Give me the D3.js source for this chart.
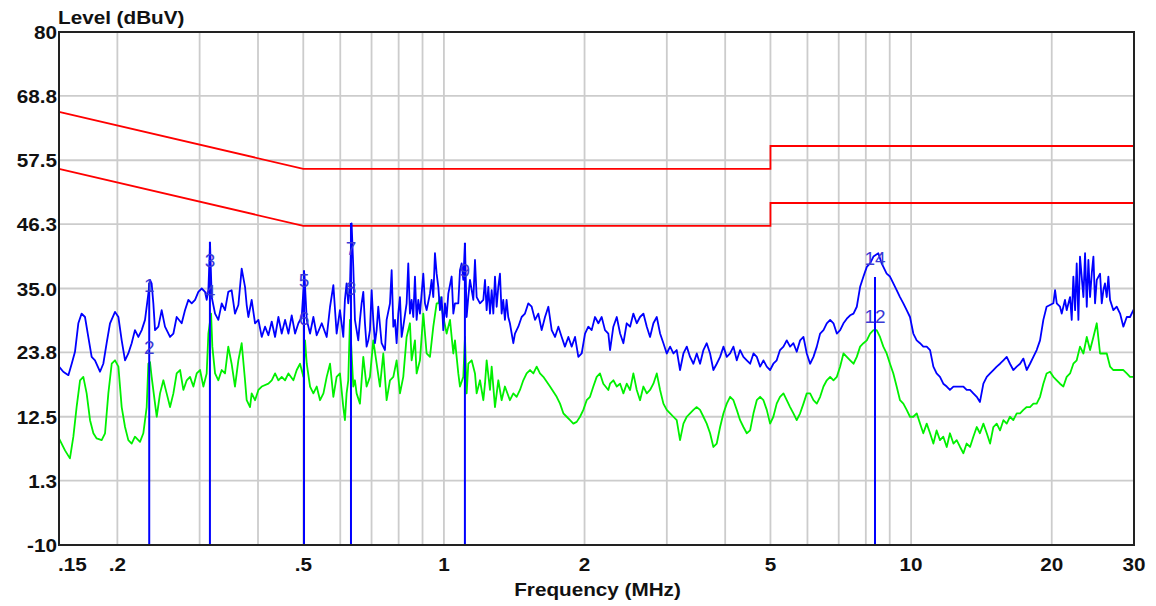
<!DOCTYPE html>
<html>
<head>
<meta charset="utf-8">
<script src="https://cdn.jsdelivr.net/npm/d3@7"></script>
<style>
  body { margin: 0; background: #ffffff; }
  text { font-family: "Liberation Sans", Arial, sans-serif; }
</style>
</head>
<body>
<div id="chart"></div>
<script>
///////////////////////////////////////////////////
//          CHART DATA       //
///////////////////////////////////////////////////
var yTicks = [-10, 1.3, 12.5, 23.8, 35.0, 46.3, 57.5, 68.8, 80];
var xGrid = [0.2, 0.3, 0.4, 0.5, 0.6, 0.7, 0.8, 0.9, 1, 2, 3, 4, 5, 6, 7, 8, 9, 10, 20, 30];
var xTickLabels = [[0.15, ".15"], [0.2, ".2"], [0.5, ".5"], [1, "1"], [2, "2"], [5, "5"], [10, "10"], [20, "20"], [30, "30"]];

// limit lines (dBuV), quasi-peak and average
var qpLimit = [[0.15, 66], [0.5, 56], [5, 56], [5, 60], [30, 60]];
var avLimit = [[0.15, 56], [0.5, 46], [5, 46], [5, 50], [30, 50]];

// peak detector trace [MHz, dBuV]
var peakTrace = [
  [0.150, 21.3], [0.1532, 20.4], [0.1571, 19.8], [0.1597, 21.8], [0.1623, 23.9], [0.1650, 28.9], [0.1677, 30.6],
  [0.1705, 30.0], [0.1733, 26.5], [0.1762, 23.0], [0.1791, 22.4], [0.1836, 20.4], [0.1866, 21.8], [0.1897, 25.4],
  [0.1929, 28.9], [0.1977, 30.9], [0.2010, 30.0], [0.2043, 25.9], [0.2077, 22.4], [0.2111, 23.6], [0.2146, 25.4],
  [0.2181, 27.7], [0.2218, 26.5], [0.2255, 27.7], [0.2292, 29.5], [0.2330, 34.1], [0.2349, 36.5], [0.2368, 35.9],
  [0.2388, 32.4], [0.2408, 27.7], [0.2448, 28.3], [0.2488, 31.2], [0.2529, 28.3], [0.2593, 26.5], [0.2636, 27.1],
  [0.2679, 30.0], [0.2746, 28.9], [0.2791, 31.2], [0.2838, 33.0], [0.2885, 32.4], [0.2933, 33.0], [0.2981, 34.4],
  [0.3031, 35.0], [0.3081, 34.4], [0.3106, 33.0], [0.3132, 34.7], [0.3158, 42.9], [0.3184, 33.5], [0.3237, 30.6],
  [0.3290, 29.5], [0.3345, 32.4], [0.3400, 31.2], [0.3455, 34.4], [0.3512, 34.7], [0.3571, 30.6], [0.3631, 32.1],
  [0.3691, 38.5], [0.3752, 35.3], [0.3783, 32.1], [0.3814, 30.0], [0.3877, 33.0], [0.3942, 28.9], [0.4008, 29.5],
  [0.4074, 26.5], [0.4141, 28.3], [0.4210, 26.8], [0.4280, 29.2], [0.4351, 26.5], [0.4423, 30.0], [0.4496, 27.1],
  [0.4571, 29.5], [0.4647, 27.1], [0.4723, 30.3], [0.4802, 27.1], [0.4881, 28.9], [0.4962, 30.0], [0.5028, 37.6],
  [0.5086, 29.5], [0.5170, 27.1], [0.5255, 30.0], [0.5342, 26.8], [0.5477, 28.9], [0.5612, 26.5], [0.5705, 31.8],
  [0.5799, 35.6], [0.5893, 27.1], [0.5990, 31.2], [0.6090, 26.5], [0.6139, 33.0], [0.6190, 35.9], [0.6241, 32.4],
  [0.6293, 35.3], [0.6345, 46.4], [0.6397, 38.8], [0.6450, 29.5], [0.6503, 27.7], [0.6557, 25.9], [0.6611, 29.5],
  [0.6666, 32.4], [0.6721, 34.4], [0.6776, 28.9], [0.6832, 24.8], [0.6889, 25.9], [0.6945, 27.7], [0.7003, 34.7],
  [0.7060, 29.5], [0.7119, 25.4], [0.7178, 27.7], [0.7236, 31.8], [0.7356, 25.4], [0.7478, 24.2], [0.7540, 29.5],
  [0.7666, 32.4], [0.7729, 38.2], [0.7793, 28.3], [0.7857, 29.5], [0.7921, 25.4], [0.7986, 30.6], [0.8052, 33.5],
  [0.8119, 26.5], [0.8185, 28.3], [0.8321, 32.4], [0.8389, 39.4], [0.8458, 30.6], [0.8529, 33.0], [0.8599, 30.0],
  [0.8670, 37.1], [0.8742, 29.5], [0.8814, 33.0], [0.8886, 30.6], [0.9034, 37.6], [0.9108, 32.4], [0.9183, 31.2],
  [0.9335, 34.1], [0.9412, 36.5], [0.9490, 33.5], [0.9568, 41.2], [0.9647, 37.6], [0.9727, 35.3], [0.9807, 31.2],
  [0.9887, 33.5], [0.9969, 27.7], [1.0053, 32.4], [1.0135, 30.0], [1.0219, 34.1], [1.0388, 37.1], [1.0474, 30.6],
  [1.0560, 32.4], [1.0735, 32.4], [1.0824, 38.2], [1.0913, 39.4], [1.1003, 36.5], [1.1094, 42.9], [1.1186, 30.0],
  [1.1278, 33.5], [1.1371, 36.5], [1.1559, 33.0], [1.1655, 40.0], [1.1751, 33.5], [1.1946, 32.4], [1.2144, 33.0],
  [1.2244, 36.5], [1.2345, 31.2], [1.2447, 35.3], [1.2550, 30.6], [1.2654, 34.7], [1.2758, 30.6], [1.2862, 37.1],
  [1.2969, 31.8], [1.3075, 35.3], [1.3182, 37.6], [1.3290, 30.6], [1.3397, 33.0], [1.3508, 29.5], [1.3619, 33.0],
  [1.3731, 30.0], [1.3844, 28.9], [1.4079, 25.4], [1.4193, 27.1], [1.4429, 28.3], [1.4668, 30.0], [1.4911, 30.6],
  [1.5159, 32.4], [1.5411, 31.8], [1.5667, 29.5], [1.5925, 30.6], [1.6189, 27.7], [1.6459, 30.0], [1.6731, 31.8],
  [1.7009, 27.7], [1.7291, 26.5], [1.7578, 28.3], [1.7868, 26.5], [1.8156, 24.8], [1.8465, 26.5], [1.8771, 24.8],
  [1.9082, 26.5], [1.9398, 23.0], [1.9720, 23.6], [2.0047, 27.1], [2.0377, 28.3], [2.0714, 27.7], [2.1057, 30.0],
  [2.1409, 28.9], [2.1760, 30.0], [2.2120, 27.7], [2.2486, 27.1], [2.268, 24.2], [2.305, 28.3], [2.344, 30.0],
  [2.383, 27.1], [2.422, 25.4], [2.462, 28.9], [2.503, 28.3], [2.544, 30.6], [2.587, 28.9], [2.629, 30.0],
  [2.673, 30.6], [2.718, 28.3], [2.762, 26.5], [2.808, 28.9], [2.855, 30.0], [2.902, 27.1], [2.950, 25.4],
  [2.999, 23.6], [3.049, 24.8], [3.099, 23.6], [3.150, 24.2], [3.202, 20.7], [3.256, 23.6], [3.310, 24.8],
  [3.364, 23.0], [3.420, 21.8], [3.477, 23.6], [3.534, 21.8], [3.593, 24.2], [3.652, 25.4], [3.713, 23.6],
  [3.774, 20.7], [3.837, 21.8], [3.901, 23.0], [3.966, 24.8], [4.031, 23.0], [4.098, 23.6], [4.166, 24.8],
  [4.235, 22.4], [4.305, 24.2], [4.376, 23.0], [4.449, 22.4], [4.523, 21.8], [4.598, 23.6], [4.674, 23.0],
  [4.752, 21.3], [4.830, 22.4], [4.910, 21.3], [4.991, 20.7], [5.072, 21.8], [5.156, 22.4], [5.241, 24.2],
  [5.331, 24.8], [5.418, 25.9], [5.508, 24.8], [5.599, 25.4], [5.691, 23.9], [5.787, 25.9], [5.883, 26.5],
  [5.980, 23.6], [6.079, 21.8], [6.180, 23.0], [6.283, 24.8], [6.387, 27.1], [6.493, 27.7], [6.600, 28.9],
  [6.710, 29.5], [6.821, 28.9], [6.934, 27.1], [7.049, 27.7], [7.165, 28.9], [7.284, 29.7], [7.405, 30.3],
  [7.528, 30.6], [7.652, 31.8], [7.778, 35.3], [7.907, 37.1], [8.039, 38.8], [8.171, 39.4], [8.306, 40.6],
  [8.508, 41.2], [8.650, 39.4], [8.865, 37.6], [9.012, 37.1], [9.162, 35.9], [9.313, 34.7], [9.468, 33.5],
  [9.625, 32.4], [9.785, 31.2], [9.946, 30.0], [10.11, 27.1], [10.28, 25.9], [10.45, 25.4], [10.62, 24.8],
  [10.80, 24.8], [10.98, 24.2], [11.16, 21.3], [11.34, 20.1], [11.53, 19.5], [11.72, 18.3], [11.92, 17.8],
  [12.11, 17.2], [12.32, 17.8], [12.52, 17.8], [12.73, 17.8], [12.94, 17.8], [13.15, 17.2], [13.37, 17.2],
  [13.59, 16.6], [13.82, 16.0], [14.04, 15.1], [14.28, 18.3], [14.52, 19.5], [14.76, 20.1], [15.00, 20.7],
  [15.25, 21.3], [15.50, 21.8], [15.76, 22.4], [16.02, 23.0], [16.28, 21.8], [16.55, 20.7], [16.83, 21.3],
  [17.11, 21.8], [17.39, 22.7], [17.68, 20.7], [17.97, 21.8], [18.27, 23.0], [18.57, 24.2], [18.88, 25.9],
  [19.19, 29.5], [19.50, 31.8], [19.83, 32.1], [20.16, 32.4], [20.33, 34.7], [20.50, 32.4], [20.83, 31.8],
  [21.01, 30.6], [21.35, 33.0], [21.53, 31.2], [21.89, 33.5], [22.07, 29.5], [22.25, 37.1], [22.44, 31.2],
  [22.62, 39.4], [22.81, 29.5], [22.99, 40.6], [23.38, 33.5], [23.57, 41.2], [23.77, 31.8], [23.96, 40.0],
  [24.16, 33.5], [24.36, 37.6], [24.56, 40.6], [24.76, 32.4], [24.97, 36.5], [25.38, 37.6], [25.59, 32.4],
  [25.80, 34.7], [26.00, 35.9], [26.23, 33.5], [26.44, 37.1], [26.66, 33.0], [27.10, 31.2], [27.55, 31.8],
  [28.01, 30.6], [28.47, 28.3], [28.95, 30.0], [29.42, 30.0], [29.91, 31.2], [30.0, 31.5]
];

// average detector trace [MHz, dBuV]
var avgTrace = [
  [0.150, 8.7], [0.1545, 6.6], [0.1583, 5.2], [0.1610, 9.0], [0.1636, 14.2], [0.1664, 18.9], [0.1691, 19.5],
  [0.1719, 16.6], [0.1748, 11.9], [0.1777, 9.6], [0.1806, 8.7], [0.1851, 8.4], [0.1882, 9.6], [0.1913, 16.6],
  [0.1945, 21.8], [0.1977, 22.4], [0.2010, 21.3], [0.2043, 14.2], [0.2077, 10.7], [0.2111, 8.4], [0.2146, 7.8],
  [0.2181, 9.0], [0.2236, 8.1], [0.2273, 9.6], [0.2311, 14.2], [0.2330, 21.8], [0.2349, 22.1], [0.2368, 19.5],
  [0.2408, 14.8], [0.2428, 12.5], [0.2468, 16.6], [0.2509, 18.9], [0.2550, 16.6], [0.2593, 14.2], [0.2636, 16.6],
  [0.2679, 20.1], [0.2724, 20.7], [0.2769, 17.2], [0.2815, 18.9], [0.2861, 19.5], [0.2909, 17.8], [0.2957, 20.1],
  [0.3006, 20.7], [0.3056, 17.8], [0.3106, 20.1], [0.3132, 27.1], [0.3174, 30.6], [0.3194, 24.8], [0.3237, 20.1],
  [0.3290, 18.9], [0.3345, 20.7], [0.3400, 20.1], [0.3455, 24.8], [0.3512, 21.8], [0.3571, 17.8], [0.3631, 22.4],
  [0.3691, 25.4], [0.3752, 18.9], [0.3783, 15.4], [0.3846, 14.2], [0.3877, 16.6], [0.3942, 15.4], [0.4008, 17.2],
  [0.4074, 17.8], [0.4210, 18.3], [0.4280, 18.9], [0.4351, 20.1], [0.4423, 18.9], [0.4496, 19.5], [0.4571, 18.9],
  [0.4647, 20.1], [0.4762, 18.9], [0.4841, 20.7], [0.4921, 21.8], [0.5003, 19.5], [0.5044, 25.9], [0.5086, 21.8],
  [0.5170, 17.8], [0.5255, 16.6], [0.5342, 17.8], [0.5431, 15.4], [0.5522, 16.6], [0.5612, 19.5], [0.5705, 21.8],
  [0.5799, 16.0], [0.5893, 19.5], [0.5990, 20.1], [0.6090, 14.2], [0.6139, 11.9], [0.6190, 16.6], [0.6241, 18.9],
  [0.6293, 29.5], [0.6345, 23.6], [0.6397, 17.8], [0.6450, 18.9], [0.6503, 16.6], [0.6611, 14.8], [0.6721, 23.0],
  [0.6832, 17.8], [0.6945, 19.5], [0.7060, 25.9], [0.7178, 21.8], [0.7296, 17.8], [0.7417, 23.6], [0.7540, 15.4],
  [0.7666, 18.9], [0.7793, 19.5], [0.7921, 22.4], [0.8052, 16.6], [0.8185, 19.5], [0.8321, 26.5], [0.8458, 28.9],
  [0.8529, 22.4], [0.8670, 25.9], [0.8742, 20.1], [0.8886, 22.4], [0.9034, 30.6], [0.9183, 23.6], [0.9335, 23.0],
  [0.9490, 28.3], [0.9647, 32.4], [0.9727, 32.4], [0.9807, 33.5], [0.9969, 30.0], [1.0135, 27.1], [1.0304, 29.5],
  [1.0474, 23.6], [1.0560, 25.9], [1.0735, 20.1], [1.0824, 17.8], [1.1003, 19.5], [1.1094, 26.5], [1.1186, 16.6],
  [1.1278, 21.8], [1.1465, 22.4], [1.1655, 20.1], [1.1751, 16.6], [1.1946, 18.9], [1.2144, 15.4], [1.2244, 18.3],
  [1.2345, 22.4], [1.2550, 17.2], [1.2654, 21.3], [1.2862, 14.2], [1.3075, 18.9], [1.3290, 15.4], [1.3508, 17.8],
  [1.3844, 15.4], [1.4079, 16.6], [1.4311, 16.0], [1.4548, 17.2], [1.4789, 18.9], [1.5033, 20.1], [1.5285, 20.7],
  [1.5539, 20.1], [1.5796, 21.3], [1.6056, 20.1], [1.6323, 19.5], [1.6869, 17.8], [1.7433, 16.0], [1.7722, 14.8],
  [1.8016, 13.1], [1.8314, 12.5], [1.8618, 11.9], [1.8925, 11.3], [1.9239, 11.6], [1.9559, 12.5], [1.9882, 13.7],
  [2.0211, 15.4], [2.0544, 16.0], [2.0885, 17.8], [2.1234, 19.5], [2.1582, 20.1], [2.1938, 18.3], [2.2486, 17.2],
  [2.268, 18.3], [2.305, 18.9], [2.344, 17.8], [2.383, 18.3], [2.422, 16.6], [2.462, 18.3], [2.503, 17.2],
  [2.544, 20.1], [2.587, 17.2], [2.629, 15.4], [2.673, 17.8], [2.718, 16.6], [2.762, 17.2], [2.808, 18.3],
  [2.855, 20.1], [2.902, 17.2], [2.950, 14.8], [2.999, 13.7], [3.049, 13.1], [3.099, 12.5], [3.150, 11.9],
  [3.202, 8.4], [3.256, 11.3], [3.310, 12.5], [3.364, 13.1], [3.420, 13.7], [3.477, 14.2], [3.534, 13.7],
  [3.593, 12.5], [3.652, 11.3], [3.713, 9.6], [3.774, 7.2], [3.837, 7.8], [3.901, 10.7], [3.966, 13.1],
  [4.031, 14.8], [4.098, 16.0], [4.166, 15.4], [4.235, 13.7], [4.305, 11.9], [4.376, 10.7], [4.449, 9.6],
  [4.523, 10.1], [4.598, 13.1], [4.674, 15.4], [4.752, 16.0], [4.830, 15.4], [4.910, 13.7], [4.991, 11.3],
  [5.072, 12.5], [5.156, 14.8], [5.241, 16.0], [5.331, 16.6], [5.418, 15.4], [5.508, 14.2], [5.599, 13.1],
  [5.691, 11.9], [5.787, 13.1], [5.883, 14.8], [5.980, 16.6], [6.079, 16.6], [6.180, 15.4], [6.283, 14.8],
  [6.387, 16.0], [6.493, 17.8], [6.600, 18.9], [6.710, 19.5], [6.821, 18.9], [6.934, 19.5], [7.049, 21.3],
  [7.165, 23.6], [7.284, 23.0], [7.405, 22.4], [7.528, 21.8], [7.652, 23.0], [7.778, 24.8], [7.907, 25.4],
  [8.039, 25.9], [8.171, 27.1], [8.306, 27.7], [8.439, 27.7], [8.579, 26.5], [8.721, 24.8], [8.865, 23.6],
  [9.012, 21.8], [9.162, 20.1], [9.313, 17.8], [9.468, 15.4], [9.625, 14.8], [9.785, 13.7], [9.946, 12.5],
  [10.11, 12.5], [10.28, 13.1], [10.45, 11.3], [10.62, 9.6], [10.80, 11.3], [10.98, 9.6], [11.16, 7.8],
  [11.34, 10.1], [11.53, 8.4], [11.72, 9.0], [11.92, 7.2], [12.11, 9.6], [12.32, 7.8], [12.52, 8.4],
  [12.73, 7.2], [12.94, 6.1], [13.15, 7.8], [13.37, 7.2], [13.59, 9.0], [13.82, 10.7], [14.04, 9.6],
  [14.28, 11.3], [14.52, 9.6], [14.76, 7.8], [15.00, 10.7], [15.25, 11.3], [15.50, 10.1], [15.76, 11.9],
  [16.02, 11.3], [16.28, 12.5], [16.55, 11.9], [16.83, 13.1], [17.11, 13.1], [17.39, 13.7], [17.68, 14.2],
  [17.97, 14.2], [18.27, 14.8], [18.57, 14.8], [18.88, 16.0], [19.19, 18.3], [19.50, 20.1], [19.83, 20.4],
  [20.16, 19.5], [20.50, 18.9], [20.83, 18.3], [21.18, 17.8], [21.53, 19.5], [21.89, 20.1], [22.25, 21.8],
  [22.62, 22.4], [22.99, 24.8], [23.38, 23.6], [23.77, 26.5], [24.16, 24.2], [24.56, 26.5], [24.97, 28.9],
  [25.38, 23.6], [25.80, 23.6], [26.23, 23.6], [26.66, 21.3], [27.10, 20.7], [27.55, 20.7], [28.01, 20.7],
  [28.47, 20.7], [28.95, 20.1], [29.42, 19.5], [29.91, 19.5], [30.0, 19.5]
];

// marker lines [MHz, top dBuV]
var markerLines = [[0.234, 36.0], [0.3156, 43.2], [0.5018, 38.2], [0.6325, 46.5], [1.109, 43.0], [8.37, 37.0]];
// marker numbers [MHz, dBuV, label]
var markerLabels = [
  [0.234, 35.6, "1"], [0.234, 24.7, "2"], [0.3156, 40.0, "3"], [0.3156, 34.5, "4"],
  [0.5018, 36.5, "5"], [0.5018, 29.8, "6"], [0.6325, 42.1, "7"], [0.6325, 35.1, "8"],
  [1.109, 38.2, "9"], [8.37, 40.4, "14"], [8.37, 30.2, "12"]
];

///////////////////////////////////////////////////
//          SET UP SVG AND SCALES                //
///////////////////////////////////////////////////
var W = 1156, H = 606;
var plot = {left: 59, right: 1134, top: 32, bottom: 545};

var svg = d3.select("#chart").append("svg")
  .attr("width", W)
  .attr("height", H);

var x = d3.scaleLog()
  .domain([0.15, 30])
  .range([plot.left, plot.right]);

var y = d3.scaleLinear()
  .domain([-10, 80])
  .range([plot.bottom, plot.top]);

// grid
svg.append("g").selectAll("line.vg")
  .data(xGrid)
  .enter().append("line")
  .attr("x1", d => x(d)).attr("x2", d => x(d))
  .attr("y1", plot.top).attr("y2", plot.bottom)
  .attr("stroke", "#cccccc")
  .attr("stroke-width", 1.8);

svg.append("g").selectAll("line.hg")
  .data(yTicks)
  .enter().append("line")
  .attr("x1", plot.left).attr("x2", plot.right)
  .attr("y1", d => y(d)).attr("y2", d => y(d))
  .attr("stroke", "#cccccc")
  .attr("stroke-width", 1.8);

// limit lines
var line = d3.line()
  .x(d => x(d[0]))
  .y(d => y(d[1]));

[qpLimit, avLimit].forEach(function (lim) {
  svg.append("path")
    .datum(lim)
    .attr("d", line)
    .attr("fill", "none")
    .attr("stroke", "#ff0000")
    .attr("stroke-width", 1.8);
});

// traces
svg.append("path")
  .datum(avgTrace)
  .attr("d", line)
  .attr("fill", "none")
  .attr("stroke", "#00f000")
  .attr("stroke-width", 1.8)
  .attr("stroke-linejoin", "round");

svg.append("path")
  .datum(peakTrace)
  .attr("d", line)
  .attr("fill", "none")
  .attr("stroke", "#0000ff")
  .attr("stroke-width", 1.8)
  .attr("stroke-linejoin", "round");

// markers
svg.append("g").selectAll("line")
  .data(markerLines)
  .enter().append("line")
  .attr("x1", d => x(d[0])).attr("x2", d => x(d[0]))
  .attr("y1", y(-10)).attr("y2", d => y(d[1]))
  .attr("stroke", "#0000ff")
  .attr("stroke-width", 2);

svg.append("g").selectAll("text")
  .data(markerLabels)
  .enter().append("text")
  .attr("x", d => x(d[0]))
  .attr("y", d => y(d[1]) + 7)
  .attr("text-anchor", "middle")
  .attr("font-size", "19px")
  .attr("fill", "#3a3ad6")
  .text(d => d[2]);

// frame
svg.append("rect")
  .attr("x", plot.left).attr("y", plot.top)
  .attr("width", plot.right - plot.left)
  .attr("height", plot.bottom - plot.top)
  .attr("fill", "none")
  .attr("stroke", "#222222")
  .attr("stroke-width", 2);

///////////////////////////////////////////////////
//          AXIS LABELS                          //
///////////////////////////////////////////////////
function boldText(tx, ty, anchor, str) {
  svg.append("text")
    .attr("transform", "translate(" + tx + "," + ty + ") scale(1.15,1)")
    .attr("text-anchor", anchor)
    .attr("font-size", "18px")
    .attr("font-weight", "bold")
    .attr("fill", "#111111")
    .text(str);
}

yTicks.forEach(function (t) {
  var lab = (t === -10 || t === 80) ? String(t) : t.toFixed(1);
  boldText(plot.left - 2, y(t) + 7, "end", lab);
});

xTickLabels.forEach(function (t, i) {
  boldText(i === 0 ? x(t[0]) - 1 : x(t[0]), 571, i === 0 ? "start" : "middle", t[1]);
});

boldText(plot.left - 1, 24, "start", "Level (dBuV)");
boldText((plot.left + plot.right) / 2 + 1, 596, "middle", "Frequency (MHz)");
</script>
</body>
</html>
